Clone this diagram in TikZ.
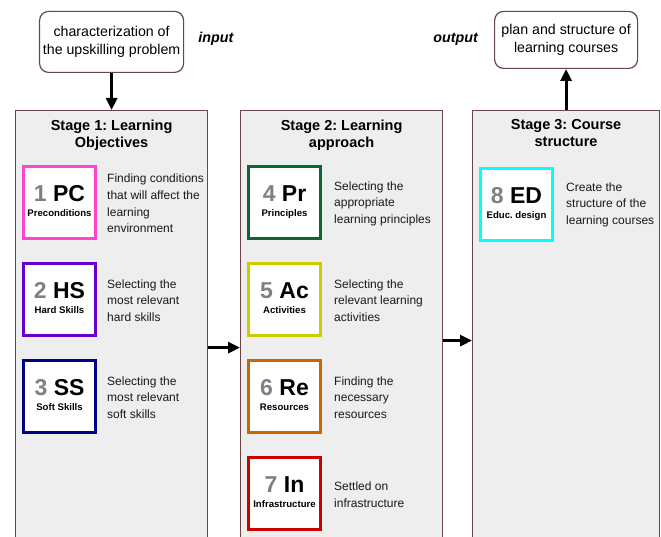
\documentclass[tikz,border=0pt]{standalone}
\usepackage{fontspec}
\setmainfont{Liberation Sans}
\usetikzlibrary{arrows.meta}
\usetikzlibrary{positioning}
\frenchspacing

\definecolor{framebrown}{HTML}{6B4545}
\definecolor{stagegray}{HTML}{EEEEEE}
\definecolor{numgray}{HTML}{808080}
\definecolor{pcpink}{HTML}{FF45CF}
\definecolor{hspurple}{HTML}{6600CC}
\definecolor{ssnavy}{HTML}{000080}
\definecolor{prgreen}{HTML}{0A6634}
\definecolor{acyellow}{HTML}{CCCC00}
\definecolor{reorange}{HTML}{CC6600}
\definecolor{inred}{HTML}{CC0000}
\definecolor{edcyan}{HTML}{00FFFF}

\newcommand{\badgenum}[1]{\textcolor{numgray}{#1}}

\begin{document}
\begin{tikzpicture}[x=1pt, y=-1pt,
      stage/.style={rectangle, draw=framebrown, fill=stagegray, line width=1.2pt, minimum height=450pt, inner sep=0pt},
      title/.style={font=\fontsize{14.5}{17}\selectfont\bfseries, align=center, inner sep=0pt},
      io/.style={rectangle, rounded corners=9pt, draw=framebrown, fill=white, line width=1.2pt, minimum width=143pt, minimum height=57pt, font=\fontsize{14.2}{17.5}\selectfont, align=center},
      tag/.style={font=\fontsize{14.3}{17}\selectfont\bfseries\itshape, inner sep=0pt},
      badge/.style={rectangle, draw=#1, fill=white, line width=3pt, minimum size=72pt, inner sep=0pt, text height=10pt, text depth=11.6pt, font=\fontsize{23}{23}\selectfont\bfseries},
      sublab/.style={font=\fontsize{9.6}{10}\selectfont\bfseries, anchor=base, yshift=23.3pt, inner sep=0pt},
      desc/.style={font=\fontsize{12}{16.6}\selectfont, align=left, inner sep=0pt, text=black!90},
      arrow/.style={-{Triangle[width=11pt,length=12pt]}, line width=3pt}
      ]

      \useasboundingbox (0,0) rectangle (661,537);

      % Stages
      \node[stage, minimum width=192pt, anchor=north west] (S1) at (15,110) {};
      \node[stage, minimum width=202pt, right=31.8pt of S1] (S2) {};
      \node[stage, minimum width=187pt, right=28.8pt of S2] (S3) {};

      \node[title, below=9.5pt of S1.north] (T1) {Stage 1: Learning\\Objectives};
      \node[title, below=9.5pt of S2.north] (T2) {Stage 2: Learning\\approach};
      \node[title, below=9.5pt of S3.north] (T3) {Stage 3: Course\\structure};

      % Input and output
      \node[io, minimum height=61pt, above=37pt of S1] (input) {characterization of\\the upskilling problem};
      \node[tag, right=14pt of input, yshift=3pt] (intag) {input};
      \node[io, above=41pt of S3] (output) {plan and structure of\\learning courses};
      \node[tag, left=16pt of output, yshift=1pt] (outtag) {output};

      % Stage 1
      \node[badge=pcpink, label={[sublab]south:Preconditions}, below right=55pt and 7pt of S1.north west] (B1) {\badgenum{1} PC};
      \node[badge=hspurple, label={[sublab]south:Hard Skills}, below=22pt of B1] (B2) {\badgenum{2} HS};
      \node[badge=ssnavy, label={[sublab]south:Soft Skills}, below=22pt of B2] (B3) {\badgenum{3} SS};

      \node[desc, right=10pt of B1, yshift=-1pt] (D1) {Finding conditions\\that will affect the\\learning\\environment};
      \node[desc, right=10pt of B2, yshift=-1pt] (D2) {Selecting the\\most relevant\\hard skills};
      \node[desc, right=10pt of B3, yshift=-1pt] (D3) {Selecting the\\most relevant\\soft skills};

      % Stage 2
      \node[badge=prgreen, label={[sublab]south:Principles}, below right=55pt and 7pt of S2.north west] (B4) {\badgenum{4} Pr};
      \node[badge=acyellow, label={[sublab]south:Activities}, below=22pt of B4] (B5) {\badgenum{5} Ac};
      \node[badge=reorange, label={[sublab]south:Resources}, below=22pt of B5] (B6) {\badgenum{6} Re};
      \node[badge=inred, label={[sublab]south:Infrastructure}, below=22pt of B6] (B7) {\badgenum{7} In};

      \node[desc, right=12pt of B4, yshift=-1pt] (D4) {Selecting the\\appropriate\\learning principles};
      \node[desc, right=12pt of B5, yshift=-1pt] (D5) {Selecting the\\relevant learning\\activities};
      \node[desc, right=12pt of B6, yshift=-1pt] (D6) {Finding the\\necessary\\resources};
      \node[desc, right=12pt of B7, yshift=-1pt] (D7) {Settled on\\infrastructure};

      % Stage 3
      \node[badge=edcyan, label={[sublab]south:Educ. design}, below right=57pt and 7pt of S3.north west] (B8) {\badgenum{8} ED};
      \node[desc, right=12pt of B8] (D8) {Create the\\structure of the\\learning courses};

      % Arrows
      \draw[arrow] (input) -- (S1);
      \draw[arrow] ([yshift=-12pt]S1.east) -- ([yshift=-12pt]S2.west);
      \draw[arrow] ([yshift=-5pt]S2.east) -- ([yshift=-5pt]S3.west);
      \draw[arrow] (S3) -- (output);

    \end{tikzpicture}
\end{document}
